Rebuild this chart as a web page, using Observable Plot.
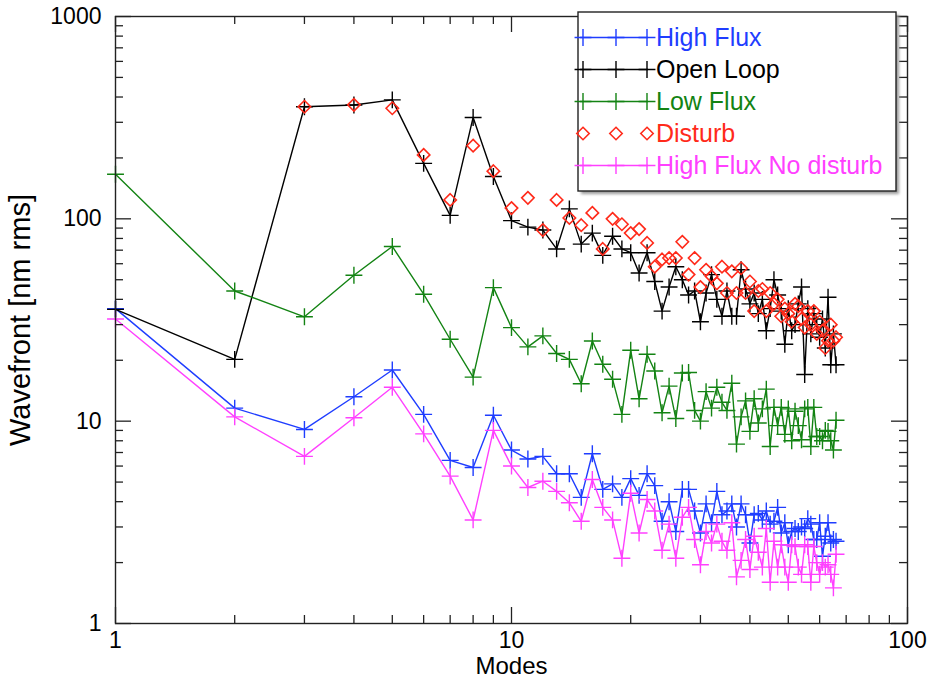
<!DOCTYPE html>
<html>
<head>
<meta charset="utf-8">
<script src="https://cdn.jsdelivr.net/npm/d3@7"></script>
<script src="https://cdn.jsdelivr.net/npm/@observablehq/plot@0.6"></script>
<style>
  html, body { margin: 0; padding: 0; background: #fff; }
  #chart { width: 928px; height: 678px; }
</style>
</head>
<body>
<div id="chart"></div>
<script>
// Residual wavefront error per corrected mode (nm rms), modes 1..66
const highFlux = [36, 11.6, 9.1, 13.2, 17.9, 10.8, 6.4, 5.9, 10.7, 7.2,
  6.5, 6.7, 5.5, 5.5, 4.2, 6.9, 4.6, 4.9, 4.2, 5.2,
  4.3, 5.5, 4.8, 3.2, 4.0, 2.85, 4.6, 4.6, 3.6, 2.8,
  3.9, 3.15, 4.5, 3.45, 3.6, 3.9, 3.0, 3.9, 3.45, 2.5,
  3.45, 3.5, 3.25, 3.6, 3.1, 3.2, 3.75, 2.8, 3.15, 2.45,
  2.85, 2.95, 2.85, 3.0, 2.95, 3.3, 3.1, 2.6, 2.6, 3.15,
  2.15, 2.7, 3.15, 2.5, 2.6, 2.55];

const openLoop = [35.7, 20.2, 358, 365, 387, 188, 104, 317, 162, 98,
  91, 88, 71, 112, 75, 85, 66, 82, 71, 68,
  54, 68, 49, 35, 46, 58, 50, 42, 44, 31,
  43, 53, 40, 33, 44, 33, 33, 56, 45, 38,
  43, 34, 40, 28, 36, 50, 42, 35, 24, 36,
  28, 30, 38, 46, 17, 36, 27, 34, 30, 26,
  32, 23, 41, 19, 27, 19];

const lowFlux = [166, 44, 32.8, 52.6, 73, 42.4, 25.4, 16.5, 45.7, 29,
  23.3, 26.4, 21.6, 20.2, 15.3, 24.9, 19.1, 16.1, 10.8, 22.4,
  12.9, 21.4, 17.7, 11.0, 14.9, 10.3, 17.3, 17.4, 11.3, 10.0,
  14.0, 11.6, 14.7, 12.4, 11.3, 15.4, 7.7, 10.5, 12.6, 8.9,
  12.9, 9.8, 11.5, 14.4, 7.5, 11.7, 9.5, 11.7, 8.6, 11.5,
  8.0, 11.2, 9.5, 8.1, 11.5, 11.7, 7.5, 11.7, 8.4, 8.4,
  8.0, 9.0, 8.9, 8.0, 7.2, 10.1];

const disturb = [null, null, 358, 366, 352, 207, 124, 230, 172, 113,
  127, 88, 124, 101, 93, 107, 71, 100, 94, 85,
  89, 76, 58, 63, 64, 64, 77, 53, 64, 46,
  56, 52, 48, 58, 43, 55, 43, 57, 43, 49,
  35, 44, 45, 35, 43, 38, 40, 33, 36, 34,
  31, 38, 37, 32, 29, 35, 30, 35, 27, 31,
  28, 23, 25, 30, 25, 26];

const highFluxNoDisturb = [32, 10.5, 6.7, 10.4, 14.7, 8.65, 5.35, 3.25, 9.0, 6.0,
  4.7, 5.05, 4.5, 3.95, 3.2, 5.15, 3.75, 3.25, 2.1, 4.4,
  2.8, 4.1, 3.6, 2.3, 3.1, 2.1, 3.35, 3.75, 2.6, 1.95,
  2.85, 2.5, 3.1, 2.55, 2.3, 3.15, 1.7, 2.05, 2.6, 1.85,
  2.7, 2.25, 1.9, 2.95, 1.6, 2.55, 1.9, 2.45, 1.9, 1.6,
  2.45, 2.4, 1.9, 1.75, 2.45, 2.4, 1.6, 2.4, 2.0, 1.75,
  2.0, 1.9, 1.95, 1.75, 1.5, 2.2];

const seriesNames = ["High Flux", "Open Loop", "Low Flux", "Disturb", "High Flux No disturb"];
const seriesColors = ["#1f3dff", "#000000", "#138313", "#ff2a1a", "#ff40ff"];
const seriesValues = [highFlux, openLoop, lowFlux, disturb, highFluxNoDisturb];
const seriesLines = [true, true, true, false, true];

const xTickLabels = [1, 10, 100];
const yTickLabels = [1, 10, 100, 1000];
const xMinorTicks = [2, 3, 4, 5, 6, 7, 8, 9, 20, 30, 40, 50, 60, 70, 80, 90];
const yMinorTicks = [2, 3, 4, 5, 6, 7, 8, 9, 20, 30, 40, 50, 60, 70, 80, 90, 200, 300, 400, 500, 600, 700, 800, 900];

// Long table: one row per (series, mode)
const rows = seriesNames.flatMap((name, k) =>
  seriesValues[k].map((v, i) => ({name, mode: i + 1, value: v})).filter(d => d.value != null)
);

const W = 928, H = 678;
const mL = 115, mR = 21, mT = 16, mB = 55;
const innerW = W - mL - mR, innerH = H - mT - mB;
const majorLen = 16, minorLen = 8;
const axisFont = "'Liberation Sans', Arial, Helvetica, sans-serif";
const legendFont = "'Liberation Sans', Arial, Helvetica, sans-serif";
const plusR = 5.5, diamondR = 5.6;

const dataMarks = seriesNames.flatMap((name, k) => {
  const d = rows.filter(r => r.name === name);
  const marks = [];
  if (seriesLines[k]) {
    marks.push(Plot.line(d, {x: "mode", y: "value", stroke: seriesColors[k], strokeWidth: 1.4}));
    marks.push(Plot.dot(d, {x: "mode", y: "value", symbol: "plus", r: plusR, stroke: seriesColors[k], strokeWidth: 1.4}));
  } else {
    marks.push(Plot.dot(d, {x: "mode", y: "value", symbol: "diamond2", r: diamondR, stroke: seriesColors[k], strokeWidth: 1.6}));
  }
  return marks;
});

// Inward-pointing tick marks on all four sides of the frame
const tickStroke = {stroke: "#222", strokeWidth: 1.3};
const frameTicks = [
  Plot.tickY(yTickLabels, {y: d => d, insetRight: innerW - majorLen, ...tickStroke}),
  Plot.tickY(yMinorTicks, {y: d => d, insetRight: innerW - minorLen, ...tickStroke}),
  Plot.tickY(yTickLabels, {y: d => d, insetLeft: innerW - majorLen, ...tickStroke}),
  Plot.tickY(yMinorTicks, {y: d => d, insetLeft: innerW - minorLen, ...tickStroke}),
  Plot.tickX(xTickLabels, {x: d => d, insetTop: innerH - majorLen, ...tickStroke}),
  Plot.tickX(xMinorTicks, {x: d => d, insetTop: innerH - minorLen, ...tickStroke}),
  Plot.tickX(xTickLabels, {x: d => d, insetBottom: innerH - majorLen, ...tickStroke}),
  Plot.tickX(xMinorTicks, {x: d => d, insetBottom: innerH - minorLen, ...tickStroke})
];

const plot = Plot.plot({
  width: W,
  height: H,
  marginLeft: mL,
  marginRight: mR,
  marginTop: mT,
  marginBottom: mB,
  x: {type: "log", domain: [1, 100]},
  y: {type: "log", domain: [1, 1000]},
  style: {fontFamily: axisFont, fontSize: "23px", color: "#000", background: "#fff", overflow: "visible"},
  marks: [
    ...dataMarks,
    ...frameTicks,
    Plot.frame({stroke: "#222", strokeWidth: 1.4}),
    Plot.axisX(xTickLabels, {tickSize: 0, tickPadding: 8, tickFormat: d => String(d), fontSize: 23, label: null}),
    Plot.axisY(yTickLabels, {tickSize: 0, tickPadding: 14, tickFormat: d => String(d), fontSize: 23, label: null}),
    Plot.text(["Modes"], {frameAnchor: "bottom", dy: 50, lineAnchor: "bottom", fontSize: 24, text: d => d}),
    Plot.text(["Wavefront [nm rms]"], {frameAnchor: "left", dx: -86, rotate: -90, textAnchor: "middle", lineAnchor: "bottom", fontSize: 29, text: d => d})
  ]
});

document.getElementById("chart").appendChild(plot);

// Legend box in the upper right corner, drawn over the frame
const svg = d3.select(plot);
const defs = svg.append("defs");
defs.append("filter").attr("id", "legend-shadow")
  .attr("x", "-5%").attr("y", "-5%").attr("width", "115%").attr("height", "115%")
  .append("feGaussianBlur").attr("stdDeviation", 1.6);

const box = {x: 578, y: 12, w: 318, h: 179};
const lg = svg.append("g").attr("class", "legend").attr("text-anchor", "start");
lg.append("rect").attr("x", box.x + 3).attr("y", box.y + 3).attr("width", box.w).attr("height", box.h)
  .attr("fill", "#9a9a9a").attr("filter", "url(#legend-shadow)");
lg.append("rect").attr("x", box.x).attr("y", box.y).attr("width", box.w).attr("height", box.h)
  .attr("fill", "#fff").attr("stroke", "#222").attr("stroke-width", 1.4);

const plusPath = d3.symbol(d3.symbolPlus, Math.PI * plusR * plusR)();
const diamondPath = d3.symbol(d3.symbolDiamond2, Math.PI * diamondR * diamondR)();
const sampleX0 = 580, sampleX1 = 648, textX = 656;
const markerXs = [583, 616, 647];

seriesNames.forEach((name, k) => {
  const cy = 37.5 + k * 32;
  const g = lg.append("g");
  if (seriesLines[k]) {
    g.append("line").attr("x1", sampleX0).attr("x2", sampleX1).attr("y1", cy).attr("y2", cy)
      .attr("stroke", seriesColors[k]).attr("stroke-width", 1.4);
  }
  markerXs.forEach(mx => {
    g.append("path").attr("d", seriesLines[k] ? plusPath : diamondPath)
      .attr("transform", `translate(${mx},${cy})`)
      .attr("fill", "none").attr("stroke", seriesColors[k]).attr("stroke-width", seriesLines[k] ? 1.4 : 1.6);
  });
  g.append("text").attr("x", textX).attr("y", cy + 8.5)
    .attr("text-anchor", "start")
    .attr("fill", seriesColors[k]).attr("font-family", legendFont).attr("font-size", 25)
    .text(name);
});
</script>
</body>
</html>
